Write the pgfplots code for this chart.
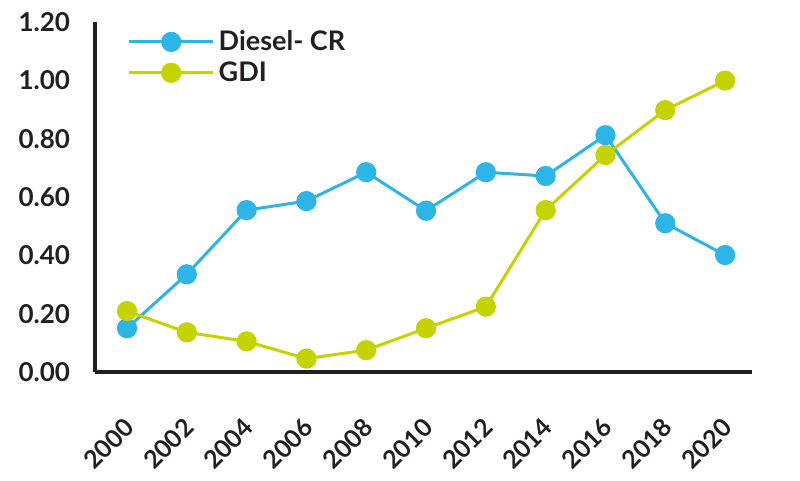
\documentclass[border=0pt]{standalone}
\usepackage{pgfplots}
\pgfplotsset{compat=1.18}
\usepackage{fontspec}
\setmainfont{Lato}
\definecolor{dblue}{HTML}{2DB5E8}
\definecolor{ggreen}{HTML}{C5D300}
\definecolor{axc}{HTML}{231F20}
\begin{document}
\begin{tikzpicture}
\begin{axis}[
  scale only axis,
  width=328.5pt, height=175pt,
  xmin=1998.93, xmax=2020.9,
  ymin=0, ymax=1.2,
  axis x line*=bottom, axis y line*=left,
  axis line style={axc, line width=2pt},
  xtick={2000,2002,...,2020},
  ytick={0,0.2,0.4,0.6,0.8,1.0,1.2},
  major tick length=0pt,
  tick label style={font=\bfseries\fontsize{13}{13}\selectfont, text=axc},
  /pgf/number format/assume math mode=true,
  xticklabel style={rotate=45, anchor=north east, font=\bfseries\fontsize{12.5}{13}\selectfont, /pgf/number format/1000 sep={}, yshift=-10.7pt, xshift=-13.8pt},
  yticklabel style={/pgf/number format/.cd, fixed, fixed zerofill, precision=2, /tikz/.cd, xshift=-9pt},
  legend style={draw=none, fill=none, at={(0.04,1.0)}, anchor=north west,
    font=\bfseries\fontsize{13.5}{14}\selectfont, text=axc, row sep=0pt},
  legend cell align=left,
  legend image code/.code={
    \draw[mark repeat=2,mark phase=2] plot coordinates {(0pt,0pt) (21pt,0pt) (42pt,0pt)};
  },
  every axis plot/.append style={line width=1.5pt, mark=*, mark size=4.3pt, mark options={solid}},
  clip=false,
]
\addplot[color=dblue] coordinates {
(2000,0.15) (2002,0.335) (2004,0.555) (2006,0.586) (2008,0.685) (2010,0.553)
(2012,0.685) (2014,0.672) (2016,0.812) (2018,0.51) (2020,0.401)};
\addlegendentry{Diesel- CR}
\addplot[color=ggreen] coordinates {
(2000,0.209) (2002,0.136) (2004,0.105) (2006,0.046) (2008,0.075) (2010,0.15)
(2012,0.224) (2014,0.555) (2016,0.744) (2018,0.898) (2020,0.999)};
\addlegendentry{GDI}
\end{axis}
\path (-47.5pt,-45pt) rectangle (352.5pt,186pt);
\end{tikzpicture}
\end{document}
